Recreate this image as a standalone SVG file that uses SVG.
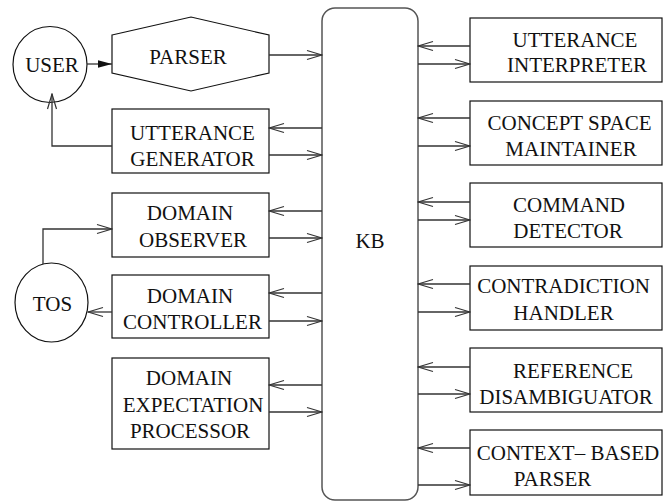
<svg xmlns="http://www.w3.org/2000/svg" width="668" height="501" viewBox="0 0 668 501">
<style>
.box{fill:#fff;stroke:#111;stroke-width:1.2}
.kb{fill:#fff;stroke:#555;stroke-width:1.5}
.c{fill:none;stroke:#333;stroke-width:1.3}
.t{font-family:'Liberation Serif','Times New Roman',serif;font-size:21px;fill:#111;text-anchor:middle}
</style>
<defs>
<marker id="open" viewBox="-16 -6 17 12" markerWidth="17" markerHeight="12" refX="0" refY="0" markerUnits="userSpaceOnUse" orient="auto">
<path d="M-15,-4.5 L0,0 L-15,4.5" fill="none" stroke="#333" stroke-width="1.2"/>
</marker>
<marker id="filled" viewBox="-15 -5 16 10" markerWidth="16" markerHeight="10" refX="0" refY="0" markerUnits="userSpaceOnUse" orient="auto">
<path d="M-14,-3.8 L0,0 L-14,3.8 Z" fill="#111"/>
</marker>
</defs>

<g id="kb">
<rect class="kb" x="322" y="8" width="96" height="492" rx="13"/>
<text class="t" x="370" y="248">KB</text>
</g>

<g id="user">
<ellipse class="box" cx="50" cy="64.5" rx="37" ry="38"/>
<text class="t" x="52" y="71.5">USER</text>
</g>

<g id="tos">
<ellipse class="box" cx="51.5" cy="302.5" rx="36.5" ry="39.5"/>
<text class="t" x="52.5" y="311">TOS</text>
</g>

<g id="parser">
<polygon class="box" points="112,35 191,17 269,35 269,73 191,91 112,73"/>
<text class="t" x="188" y="64">PARSER</text>
</g>

<g id="utterance-generator">
<rect class="box" x="112" y="109" width="157" height="64"/>
<text class="t" x="192.5" y="140">UTTERANCE</text>
<text class="t" x="192.5" y="166">GENERATOR</text>
</g>

<g id="domain-observer">
<rect class="box" x="112" y="193" width="157" height="64"/>
<text class="t" x="190" y="220">DOMAIN</text>
<text class="t" x="193" y="247">OBSERVER</text>
</g>

<g id="domain-controller">
<rect class="box" x="112" y="275" width="157" height="63"/>
<text class="t" x="190" y="303">DOMAIN</text>
<text class="t" x="192.5" y="329">CONTROLLER</text>
</g>

<g id="domain-expectation-processor">
<rect class="box" x="112" y="358" width="157" height="91"/>
<text class="t" x="189" y="385">DOMAIN</text>
<text class="t" x="193" y="412">EXPECTATION</text>
<text class="t" x="190" y="438">PROCESSOR</text>
</g>

<g id="utterance-interpreter">
<rect class="box" x="470" y="18" width="192" height="64"/>
<text class="t" x="575" y="47">UTTERANCE</text>
<text class="t" x="577" y="72">INTERPRETER</text>
</g>

<g id="concept-space-maintainer">
<rect class="box" x="470" y="101" width="192" height="64"/>
<text class="t" x="569.5" y="130">CONCEPT SPACE</text>
<text class="t" x="571" y="156">MAINTAINER</text>
</g>

<g id="command-detector">
<rect class="box" x="470" y="183" width="192" height="64"/>
<text class="t" x="569" y="212">COMMAND</text>
<text class="t" x="568" y="238">DETECTOR</text>
</g>

<g id="contradiction-handler">
<rect class="box" x="470" y="266" width="192" height="64"/>
<text class="t" x="563.5" y="293">CONTRADICTION</text>
<text class="t" x="563.5" y="320">HANDLER</text>
</g>

<g id="reference-disambiguator">
<rect class="box" x="470" y="348" width="192" height="64"/>
<text class="t" x="573" y="378">REFERENCE</text>
<text class="t" x="566" y="404">DISAMBIGUATOR</text>
</g>

<g id="context-based-parser">
<rect class="box" x="470" y="430" width="192" height="65"/>
<text class="t" x="568" y="460">CONTEXT– BASED</text>
<text class="t" x="552.5" y="486">PARSER</text>
</g>

<g id="connectors">
<line class="c" x1="87" y1="64" x2="112" y2="64" marker-end="url(#filled)"/>
<line class="c" x1="269" y1="55" x2="322" y2="55" marker-end="url(#open)"/>
<polyline class="c" points="112,146 52,146 52,94" marker-end="url(#open)"/>
<polyline class="c" points="43,264 43,229 112,229" marker-end="url(#open)"/>
<line class="c" x1="112" y1="312" x2="88" y2="312" marker-end="url(#open)"/>

<line class="c" x1="322" y1="128" x2="269" y2="128" marker-end="url(#open)"/>
<line class="c" x1="269" y1="155" x2="322" y2="155" marker-end="url(#open)"/>
<line class="c" x1="322" y1="211" x2="269" y2="211" marker-end="url(#open)"/>
<line class="c" x1="269" y1="238" x2="322" y2="238" marker-end="url(#open)"/>
<line class="c" x1="322" y1="293" x2="269" y2="293" marker-end="url(#open)"/>
<line class="c" x1="269" y1="321" x2="322" y2="321" marker-end="url(#open)"/>
<line class="c" x1="322" y1="385" x2="269" y2="385" marker-end="url(#open)"/>
<line class="c" x1="269" y1="412" x2="322" y2="412" marker-end="url(#open)"/>

<line class="c" x1="470" y1="46" x2="418" y2="46" marker-end="url(#open)"/>
<line class="c" x1="418" y1="64" x2="470" y2="64" marker-end="url(#open)"/>
<line class="c" x1="470" y1="118" x2="418" y2="118" marker-end="url(#open)"/>
<line class="c" x1="418" y1="146" x2="470" y2="146" marker-end="url(#open)"/>
<line class="c" x1="470" y1="202" x2="418" y2="202" marker-end="url(#open)"/>
<line class="c" x1="418" y1="220" x2="470" y2="220" marker-end="url(#open)"/>
<line class="c" x1="470" y1="284" x2="418" y2="284" marker-end="url(#open)"/>
<line class="c" x1="418" y1="312" x2="470" y2="312" marker-end="url(#open)"/>
<line class="c" x1="470" y1="367" x2="418" y2="367" marker-end="url(#open)"/>
<line class="c" x1="418" y1="394" x2="470" y2="394" marker-end="url(#open)"/>
<line class="c" x1="470" y1="448" x2="418" y2="448" marker-end="url(#open)"/>
<line class="c" x1="418" y1="485" x2="470" y2="485" marker-end="url(#open)"/>
</g>
</svg>
